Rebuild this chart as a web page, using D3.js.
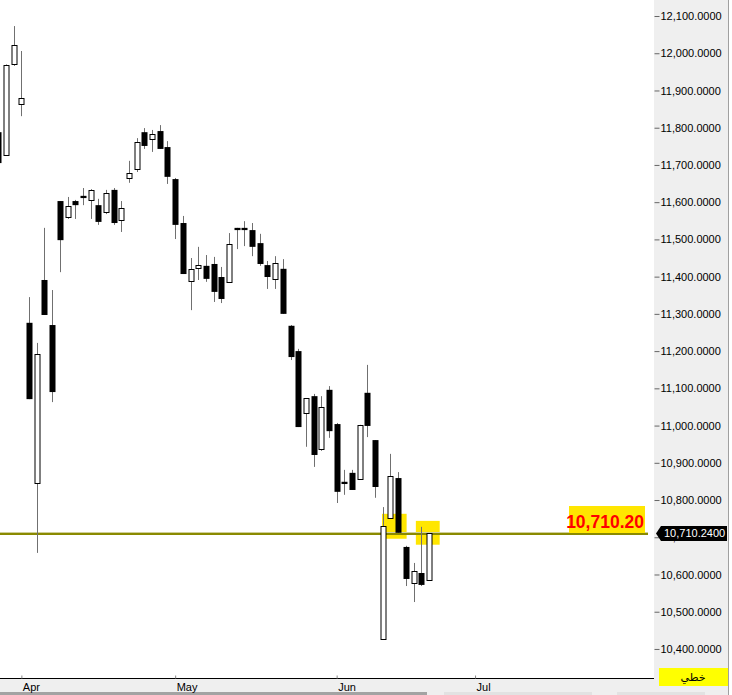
<!DOCTYPE html>
<html><head><meta charset="utf-8">
<script src="https://cdn.jsdelivr.net/npm/d3@7"></script>
<style>body{margin:0;background:#fff;} svg{display:block;}</style>
</head><body>
<svg id="c" width="732" height="695"></svg>
<script>
// ---- data (daily candles, trading-day index) ----
const open  = [11788,11727,11971,11864,11276,10846,11391,11270,11603,11560,11603,11617,11606,11592,11574,11633,11552,11665,11689,11788,11770,11791,11748,11662,11544,11388,11423,11429,11434,11399,11386,11531,11531,11525,11490,11431,11394,11421,11268,11200,11034,11079,10937,11096,11004,10849,10873,10857,11088,10961,10427,10752,10859,10674,10577,10604,10585];
const high  = [11794,11970,12073,12006,11345,11222,11531,11364,11603,11614,11606,11638,11635,11609,11633,11638,11603,11711,11772,11799,11794,11807,11764,11665,11563,11450,11480,11458,11453,11426,11517,11531,11549,11544,11515,11442,11455,11447,11270,11206,11074,11085,11079,11106,11007,10881,10881,11002,11163,10961,10781,10924,10875,10677,10631,10728,10710.24];
const low   = [11700,11725,11966,11831,11071,10658,11297,11063,11412,11555,11555,11592,11555,11539,11568,11539,11520,11652,11681,11743,11735,11743,11649,11501,11407,11310,11391,11386,11332,11329,11386,11474,11482,11455,11429,11367,11367,11300,11176,10996,10943,10889,10932,10967,10792,10814,10827,10857,10969,10806,10427,10749,10712,10569,10526,10569,10585];
const close = [11705,11968,12022,11880,11071,11192,11297,11090,11498,11590,11592,11611,11633,11547,11625,11544,11584,11678,11762,11751,11783,11743,11668,11539,11407,11421,11431,11394,11359,11340,11488,11525,11525,11480,11434,11399,11437,11300,11184,10996,11074,10921,11050,10985,10822,10843,10827,11002,10999,10835,10730,10865,10712,10588,10610,10572,10710.24];
const monthLabels = ["Apr","May","Jun","Jul"];
const monthStartIndex = [3,23,44,62];
const yTickValues = d3.range(10400, 12101, 100);
const lastPrice = 10710.24;
const markerText = "10,710.20";
const boxStartIdx = [49.9, 54.3];
const boxEndIdx   = [53.1, 57.4];
const boxLowPrice = [10696, 10680];
const boxHighPrice= [10763, 10744];
const modeLabel = "خطي";

const svg = d3.select("#c");
const W = 732, H = 695, plotR = 654, plotB = 678;

const x = d3.scaleLinear().domain([0.221, 85.27]).range([0, plotR]);
const y = d3.scaleLinear().domain([10322, 12143]).range([plotB, 0]);

svg.append("rect").attr("width", W).attr("height", H).attr("fill", "#fff");
// right axis panel
svg.append("rect").attr("x", plotR).attr("y", 0).attr("width", 74).attr("height", H).attr("fill", "#EFEFEF");
svg.append("line").attr("x1", 728.5).attr("x2", 728.5).attr("y1", 0).attr("y2", H).attr("stroke", "#A0A0A0");
// bottom panel
svg.append("rect").attr("x", 0).attr("y", plotB).attr("width", plotR).attr("height", H - plotB).attr("fill", "#EFEFEF");
// scrollbar strip
const strip = svg.append("g");
strip.append("rect").attr("x", 0).attr("y", 692).attr("width", 427).attr("height", 3).attr("fill", "#A3A3A3");
strip.append("rect").attr("x", 444).attr("y", 692).attr("width", 148).attr("height", 3).attr("fill", "#E2E2E2");
strip.append("rect").attr("x", 617).attr("y", 692).attr("width", 88).attr("height", 3).attr("fill", "#E2E2E2");

const plot = svg.append("g");
// highlight boxes
plot.selectAll("rect.hl").data(boxStartIdx).join("rect").attr("class", "hl")
  .attr("x", (d) => x(d))
  .attr("width", (d, i) => x(boxEndIdx[i]) - x(d))
  .attr("y", (d, i) => y(boxHighPrice[i]))
  .attr("height", (d, i) => y(boxLowPrice[i]) - y(boxHighPrice[i]))
  .attr("fill", "#FFE600");

// last price line
const ly = Math.round(y(lastPrice));
plot.append("line").attr("x1", 0).attr("x2", 648).attr("y1", ly - 0.5).attr("y2", ly - 0.5).attr("stroke", "#CFCF9A").attr("stroke-width", 1);
plot.append("line").attr("x1", 0).attr("x2", 648).attr("y1", ly + 1).attr("y2", ly + 1).attr("stroke", "#8A8A00").attr("stroke-width", 2);

// candles
const idx = d3.range(open.length);
const g = plot.append("g");
const cx = (i) => Math.round(x(i)) + 0.5;
g.selectAll("line.w").data(idx).join("line").attr("class", "w")
  .attr("x1", cx).attr("x2", cx)
  .attr("y1", (i) => y(high[i])).attr("y2", (i) => y(low[i]))
  .attr("stroke", "#707070").attr("stroke-width", 1);
g.selectAll("rect.b").data(idx).join("rect").attr("class", "b")
  .each(function (i) {
    const up = close[i] >= open[i];
    const top = y(Math.max(open[i], close[i]));
    const bot = y(Math.min(open[i], close[i]));
    const c = cx(i);
    const sel = d3.select(this);
    if (up) {
      sel.attr("x", c - 2.5).attr("width", 5)
        .attr("y", Math.round(top) + 0.5).attr("height", Math.max(1, Math.round(bot) - Math.round(top)))
        .attr("fill", "#fff").attr("stroke", "#000").attr("stroke-width", 1);
    } else {
      sel.attr("x", c - 3).attr("width", 6)
        .attr("y", top).attr("height", Math.max(2, bot - top))
        .attr("fill", "#000");
    }
  });

// marker label
svg.append("rect").attr("x", 569).attr("y", 506).attr("width", 76).attr("height", 27).attr("fill", "#FFE600");
svg.append("text").attr("x", 644).attr("y", 528).attr("text-anchor", "end")
  .attr("font-family", "Liberation Sans, Arial, sans-serif").attr("font-size", 17.5).attr("font-weight", "bold")
  .attr("fill", "#FF0000").text(markerText);

// y axis
const yAxis = d3.axisRight(y).tickValues(yTickValues).tickSize(5).tickPadding(1)
  .tickFormat(d3.format(",.4f"));
const ya = svg.append("g").attr("transform", `translate(${plotR + 0.5},0)`).call(yAxis);
ya.select(".domain").remove();
ya.selectAll(".tick line").attr("stroke", "#666");
ya.selectAll(".tick text").attr("font-family", "Liberation Sans, Arial, sans-serif").attr("font-size", 11).attr("fill", "#000");

// price tag
const tagY = y(lastPrice);
svg.append("path")
  .attr("d", `M656,${tagY} L661,${tagY - 7.5} L727,${tagY - 7.5} L727,${tagY + 7.5} L661,${tagY + 7.5} Z`)
  .attr("fill", "#000");
svg.append("text").attr("x", 664).attr("y", tagY).attr("dy", "0.35em")
  .attr("font-family", "Liberation Sans, Arial, sans-serif").attr("font-size", 11).attr("fill", "#fff")
  .text(d3.format(",.4f")(lastPrice));

// x axis
const xAxis = d3.axisBottom(x).tickValues(monthStartIndex).tickFormat((d, i) => monthLabels[i])
  .tickSize(-3).tickSizeOuter(0);
const xa = svg.append("g").attr("transform", `translate(0,${plotB + 0.5})`).call(xAxis);
xa.select(".domain").attr("stroke", "#000").attr("d", `M0,0H${plotR}`);
xa.selectAll(".tick line").attr("stroke", "#888");
xa.selectAll(".tick text").attr("text-anchor", "start").attr("x", 1).attr("y", 12.5).attr("dy", 0)
  .attr("font-family", "Liberation Sans, Arial, sans-serif").attr("font-size", 11).attr("fill", "#000");

// mode label
svg.append("rect").attr("x", 659).attr("y", 668).attr("width", 69).attr("height", 18).attr("fill", "#FFFF00");
svg.append("text").attr("x", 693).attr("y", 681).attr("text-anchor", "middle")
  .attr("font-family", "DejaVu Sans, sans-serif").attr("font-size", 11).attr("fill", "#000").text(modeLabel);
</script>
</body></html>
